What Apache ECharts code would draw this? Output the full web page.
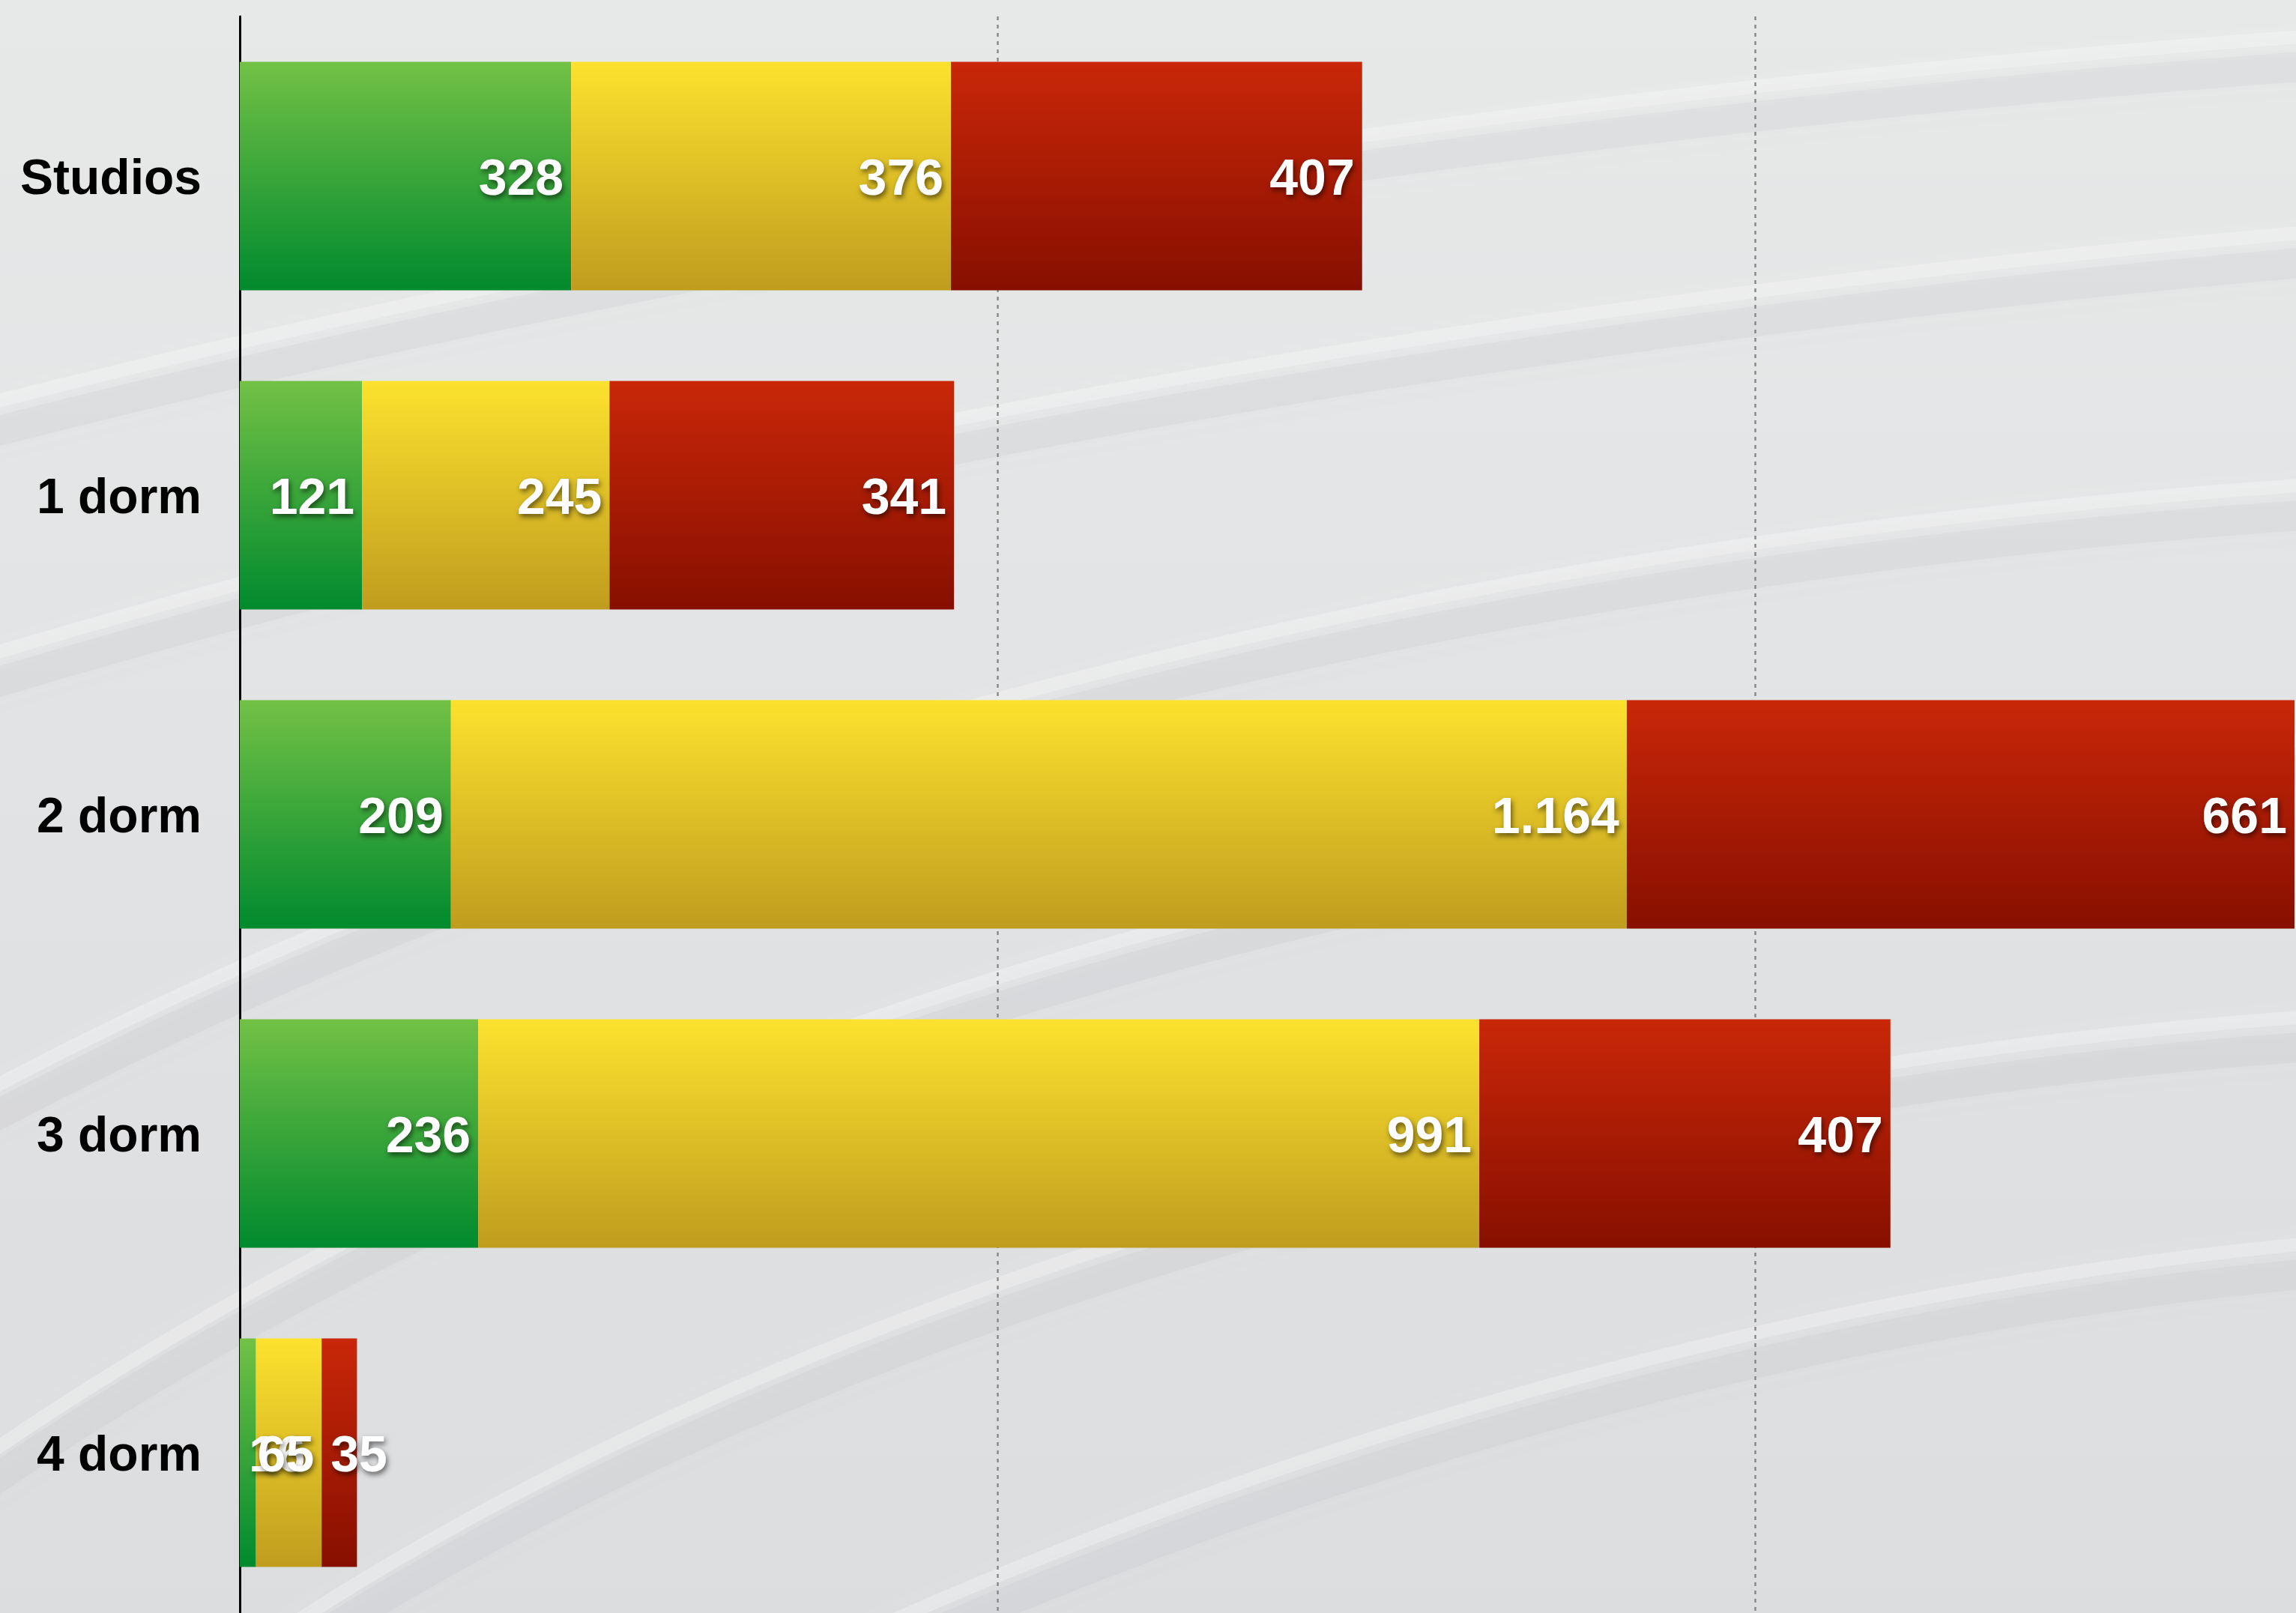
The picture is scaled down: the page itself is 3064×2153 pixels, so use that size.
<!DOCTYPE html>
<html>
<head>
<meta charset="utf-8">
<script src="https://cdn.jsdelivr.net/npm/echarts@6/dist/echarts.min.js"></script>
<style>
html,body{margin:0;padding:0;background:#e4e5e5;}
#chart{width:3064px;height:2153px;}
</style>
</head>
<body>
<div id="chart"></div>
<script>
const categories = ['Studios', '1 dorm', '2 dorm', '3 dorm', '4 dorm'];
const greenValues = [328, 121, 209, 236, 16];
const yellowValues = [376, 245, 1164, 991, 65];
const redValues = [407, 341, 661, 407, 35];
const tickInterval = 750;

const totals = categories.map((c, i) => greenValues[i] + yellowValues[i] + redValues[i]);
const axisMax = Math.max.apply(null, totals);

function fmt(v) {
  return String(v).replace(/\B(?=(\d{3})+(?!\d))/g, '.');
}
function grad(top, bottom) {
  return new echarts.graphic.LinearGradient(0, 0, 0, 1, [
    { offset: 0, color: top },
    { offset: 1, color: bottom }
  ]);
}
const FONT = '"Liberation Sans", Arial, Helvetica, sans-serif';
const labelBase = {
  show: true,
  position: 'insideRight',
  distance: 10,
  offset: [0, 6],
  color: '#ffffff',
  fontFamily: FONT,
  fontWeight: 'bold',
  fontSize: 68,
  textShadowColor: 'rgba(0,0,0,0.55)',
  textShadowBlur: 7,
  textShadowOffsetX: 2,
  textShadowOffsetY: 4,
  formatter: p => fmt(p.value)
};
function toData(values) {
  return values.map(v => {
    if (v < 60) {
      return { value: v, label: { position: 'insideLeft', distance: 12 } };
    }
    return v;
  });
}
function makeSeries(name, values, top, bottom) {
  return {
    name: name,
    type: 'bar',
    stack: 'total',
    barWidth: 305,
    data: toData(values),
    itemStyle: { color: grad(top, bottom) },
    label: labelBase,
    emphasis: { disabled: true }
  };
}

// soft background swooshes (decorative)
const swooshes = [];
const curves = [
  [[-100, 560], [900, 300], [2000, 120], [3200, 40]],
  [[-100, 900], [1000, 560], [2200, 380], [3200, 300]],
  [[-100, 1500], [900, 950], [2100, 700], [3200, 640]],
  [[-100, 2000], [800, 1350], [2000, 1050], [3200, 980]],
  [[200, 2300], [1000, 1700], [2200, 1400], [3200, 1350]],
  [[900, 2300], [1700, 1900], [2500, 1700], [3200, 1650]]
];
curves.forEach((c, i) => {
  swooshes.push({
    type: 'bezierCurve',
    silent: true,
    z: -10,
    shape: { x1: c[0][0], y1: c[0][1], cpx1: c[1][0], cpy1: c[1][1], cpx2: c[2][0], cpy2: c[2][1], x2: c[3][0], y2: c[3][1] },
    style: { stroke: 'rgba(255,255,255,0.28)', lineWidth: 18, fill: null, shadowBlur: 40, shadowColor: 'rgba(255,255,255,0.6)' }
  });
  swooshes.push({
    type: 'bezierCurve',
    silent: true,
    z: -11,
    shape: { x1: c[0][0], y1: c[0][1] + 40, cpx1: c[1][0], cpy1: c[1][1] + 40, cpx2: c[2][0], cpy2: c[2][1] + 40, x2: c[3][0], y2: c[3][1] + 40 },
    style: { stroke: 'rgba(160,160,165,0.09)', lineWidth: 40, fill: null, shadowBlur: 50, shadowColor: 'rgba(150,150,155,0.2)' }
  });
});

const chart = echarts.init(document.getElementById('chart'), null, { renderer: 'canvas' });
chart.setOption({
  animation: false,
  backgroundColor: new echarts.graphic.LinearGradient(0, 0, 0, 1, [
    { offset: 0, color: '#e7e8e8' },
    { offset: 1, color: '#dcdddf' }
  ]),
  graphic: swooshes,
  grid: { left: 320, right: 2, top: 22, bottom: 1, containLabel: false },
  xAxis: {
    type: 'value',
    min: 0,
    max: axisMax,
    interval: tickInterval,
    axisLine: { show: false },
    axisTick: { show: false },
    axisLabel: { show: false },
    splitLine: {
      show: true,
      showMinLine: false,
      showMaxLine: false,
      lineStyle: { color: '#8a8a8a', width: 2.5, type: [5, 6] }
    }
  },
  yAxis: {
    type: 'category',
    inverse: true,
    data: categories,
    axisLine: { show: true, lineStyle: { color: '#000000', width: 3 } },
    axisTick: { show: false },
    axisLabel: {
      margin: 51,
      formatter: v => '{c|' + v + '}',
      rich: {
        c: {
          padding: [12, 0, 0, 0],
          color: '#000000',
          fontFamily: FONT,
          fontWeight: 'bold',
          fontSize: 66
        }
      }
    }
  },
  series: [
    makeSeries('green', greenValues, '#72c145', '#008a2e'),
    makeSeries('yellow', yellowValues, '#fce22e', '#c09c1e'),
    makeSeries('red', redValues, '#c92708', '#870f00')
  ]
});
</script>
</body>
</html>
